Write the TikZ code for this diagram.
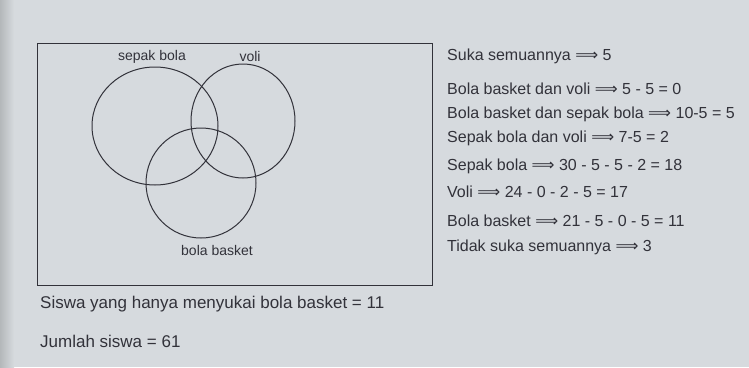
\documentclass[tikz,border=0pt]{standalone}
\usepackage{fontspec}
\setmainfont{Liberation Sans}
\newfontfamily\arrowfont{DejaVu Sans}
\newcommand{\longarr}{{\arrowfont ⟹}}
\usetikzlibrary{shapes.geometric}
\definecolor{paper}{RGB}{214,218,222}
\definecolor{shadow}{RGB}{180,184,186}
\definecolor{ink}{RGB}{50,50,58}
\begin{document}
\begin{tikzpicture}[x=1pt,y=-1pt,
  every node/.style={text=ink, inner sep=0pt},
  note/.style={anchor=west, font=\fontsize{16}{19}\selectfont},
  foot/.style={anchor=west, font=\fontsize{17}{20}\selectfont},
  venn/.style={ellipse, draw=ink, line width=1pt, inner sep=0pt},
  lab/.style={font=\fontsize{14}{16}\selectfont}]
\fill[paper] (0,0) rectangle (749,367);
\shade[left color=shadow, right color=paper] (0,0) rectangle (14,367);
\useasboundingbox (0,0) rectangle (749,367);
\node[draw=ink, line width=0.8pt, minimum width=395pt, minimum height=242pt, anchor=north west] (frame) at (37,43) {};
\node[venn, minimum width=126pt, minimum height=118pt] (sb) at (155,126) {};
\node[venn, minimum width=104pt, minimum height=114pt] (vo) at (243,121) {};
\node[venn, minimum width=110pt, minimum height=110pt] (bb) at (201,183) {};
\node[lab] (lsb) at (152,57) {sepak bola};
\node[lab] (lvo) at (250,56) {voli};
\node[lab] (lbb) at (217,250) {bola basket};
\node[note] (t1) at (447,56) {Suka semuannya \longarr{} 5};
\node[note] (t2) at (447,89) {Bola basket dan voli \longarr{} 5 - 5 = 0};
\node[note] (t3) at (447,114) {Bola basket dan sepak bola \longarr{} 10-5 = 5};
\node[note] (t4) at (447,138) {Sepak bola dan voli \longarr{} 7-5 = 2};
\node[note] (t5) at (447,166) {Sepak bola \longarr{} 30 - 5 - 5 - 2 = 18};
\node[note] (t6) at (447,192) {Voli \longarr{} 24 - 0 - 2 - 5 = 17};
\node[note] (t7) at (447,221) {Bola basket \longarr{} 21 - 5 - 0 - 5 = 11};
\node[note] (t8) at (447,247) {Tidak suka semuannya \longarr{} 3};
\node[foot] (b1) at (40,304) {Siswa yang hanya menyukai bola basket = 11};
\node[foot] (b2) at (40,341) {Jumlah siswa = 61};
\end{tikzpicture}
\end{document}
